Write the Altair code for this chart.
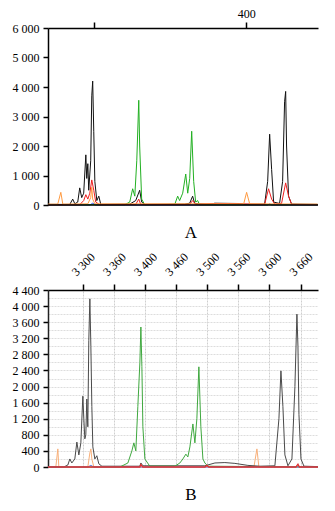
import altair as alt
import pandas as pd

FONT = "Liberation Serif"

# ---------------- Panel A (size axis, bp) ----------------
a_black_x = [270, 284.3, 286.2, 287.6, 289.5, 290.8, 292.1, 293.4, 294.8, 295.4, 296.1, 296.7, 298.0, 298.7, 299.3,
             300.0, 300.7, 302.0, 303.3, 304.6, 323.6, 327.5, 330.1, 331.4, 333.4, 359.6, 362.9, 364.8, 366.2,
             376.0, 379.3, 395.6, 398.9, 412.0, 414.0, 415.3, 416.6, 417.9, 421.8, 423.8, 425.1, 425.8, 426.4,
             427.7, 429.7, 446.7]
a_black_y = [20, 20, 200, 40, 100, 580, 250, 400, 1700, 900, 1400, 500, 1500, 3700, 4200,
             2500, 800, 150, 300, 20, 30, 150, 500, 100, 20, 30, 60, 300, 50,
             20, 60, 50, 20, 30, 800, 2400, 1200, 100, 50, 800, 3500, 3850, 2000,
             300, 30, 20]

a_green_x = [270, 320.3, 323.6, 325.5, 326.9, 328.2, 329.5, 330.1, 331.4, 333.4, 353.1, 355.0, 356.3, 358.3,
             360.3, 361.6, 362.9, 364.2, 365.5, 366.8, 368.1, 369.4, 446.7]
a_green_y = [10, 10, 100, 550, 300, 1500, 3550, 2000, 200, 10, 20, 300, 150, 400,
             1050, 400, 900, 2500, 800, 100, 150, 10, 10]

a_red_x = [270, 290.8, 293.4, 294.8, 296.1, 297.4, 298.7, 300.0, 301.3, 303.9, 327.5, 329.5, 330.8, 362.9,
           364.8, 366.8, 377.9, 389.1, 412.0, 414.6, 416.6, 418.6, 423.1, 425.8, 427.7, 429.7, 446.7]
a_red_y = [5, 10, 150, 350, 200, 400, 850, 500, 100, 10, 20, 200, 20, 20,
           150, 20, 50, 50, 20, 550, 200, 30, 50, 750, 300, 20, 10]

a_orange_x = [270, 276.4, 278.4, 279.7, 296.1, 298.0, 298.7, 299.3, 300.7, 398.3, 400.2, 402.2, 446.7]
a_orange_y = [30, 30, 430, 30, 40, 250, 600, 200, 40, 40, 430, 40, 30]

a_blue_x = [270, 297.4, 299.3, 301.3, 414.0, 415.3, 416.6, 446.7]
a_blue_y = [0, 0, 60, 0, 0, 40, 0, 0]

a_baseline_y = [0]

a_x_ticks = [300, 400]
a_y_ticks = [0, 1000, 2000, 3000, 4000, 5000, 6000]

# ---------------- Panel B (scan axis) ----------------
b_black_x = [3244, 3269.4, 3275.9, 3279.1, 3282.3, 3287.1, 3290.4, 3293.6, 3296.8, 3300.0, 3301.6, 3303.2,
             3304.8, 3306.4, 3308.0, 3309.6, 3311.3, 3312.9, 3314.5, 3316.1, 3319.3, 3322.5, 3325.7, 3330.6,
             3391.7, 3393.3, 3396.5, 3496.2, 3512.3, 3528.3, 3544.4, 3565.3, 3584.6, 3608.7, 3615.2, 3618.4,
             3621.6, 3624.8, 3629.7, 3636.1, 3640.9, 3644.1, 3645.8, 3647.4, 3650.6, 3655.4, 3678]
b_black_y = [0, 0, 50, 200, 100, 200, 620, 300, 600, 1760, 1200, 700,
             800, 1690, 1000, 3150, 4180, 3000, 1500, 500, 200, 280, 80, 20,
             20, 100, 30, 30, 100, 110, 90, 40, 20, 30, 1200, 2390,
             1500, 300, 30, 200, 2000, 3800, 3000, 1300, 200, 20, 10]

b_green_x = [3244, 3359.5, 3372.4, 3378.8, 3382.0, 3385.2, 3388.4, 3391.7, 3393.3, 3394.9, 3396.5, 3399.7,
             3407.7, 3447.9, 3456.0, 3460.8, 3465.6, 3468.8, 3472.1, 3476.9, 3480.1, 3483.3, 3486.5, 3489.7,
             3493.0, 3496.2, 3501.0, 3678]
b_green_y = [0, 0, 100, 400, 600, 400, 1500, 2600, 3480, 2500, 1000, 200,
             20, 20, 100, 200, 320, 250, 500, 1070, 600, 1200, 2490, 1000,
             200, 100, 20, 0]

b_red_x = [3244, 3391.7, 3393.3, 3396.5, 3496.2, 3499.4, 3502.6, 3642.5, 3645.8, 3648.1, 3678]
b_red_y = [0, 0, 60, 0, 0, 40, 0, 0, 70, 0, 0]

b_orange_x = [3244, 3256.6, 3259.8, 3261.4, 3308.0, 3311.3, 3312.9, 3314.5, 3317.7, 3575.0, 3579.8, 3583.0, 3678]
b_orange_y = [0, 0, 450, 0, 0, 350, 450, 200, 0, 0, 450, 0, 0]

b_blue_x = [3244, 3308.0, 3312.9, 3317.7, 3678]
b_blue_y = [0, 0, 40, 0, 0]

b_x_ticks = [3300, 3350, 3400, 3450, 3500, 3550, 3600, 3650]
b_x_labels = ["3 300", "3 360", "3 400", "3 460", "3 500", "3 560", "3 600", "3 660"]
b_y_grid = list(range(0, 4401, 200))

SPACE_FMT = "replace(format(datum.value, ','), ',', ' ')"


def df(x, y):
    return pd.DataFrame({"x": x, "y": y})


# ---------- Panel A ----------
ax_a_x = alt.X("x:Q", scale=alt.Scale(domain=[270, 447], nice=False, zero=False),
               axis=alt.Axis(orient="top", values=a_x_ticks, title=None, grid=False,
                             labelExpr="datum.value == 400 ? '400' : ''",
                             labelFont=FONT, labelFontSize=12, labelColor="black",
                             tickSize=6, tickColor="black", tickWidth=1.5,
                             domainColor="black", domainWidth=1.5, labelPadding=2))
ax_a_y = alt.Y("y:Q", scale=alt.Scale(domain=[0, 6000], nice=False),
               axis=alt.Axis(values=a_y_ticks, title=None, grid=False, labelExpr=SPACE_FMT,
                             labelOverlap=False,
                             labelFont=FONT, labelFontSize=12, labelColor="black",
                             tickSize=5, tickColor="black", tickWidth=1.5,
                             domainColor="black", domainWidth=1.5, labelPadding=4,
                             minExtent=40, maxExtent=40))


def line_a(x, y, color, w=1.0):
    return alt.Chart(df(x, y)).mark_line(color=color, strokeWidth=w, interpolate="linear").encode(
        x=ax_a_x, y=ax_a_y)


base_a = alt.Chart(pd.DataFrame({"y": a_baseline_y})).mark_rule(color="black", strokeWidth=1.5).encode(
    y=ax_a_y)

panel_a = alt.layer(
    line_a(a_blue_x, a_blue_y, "#3355ee"),
    line_a(a_black_x, a_black_y, "#111111"),
    line_a(a_green_x, a_green_y, "#22b022"),
    line_a(a_red_x, a_red_y, "#ee2020"),
    line_a(a_orange_x, a_orange_y, "#ff9a40"),
    base_a,
).properties(
    width=270, height=177,
    title=alt.TitleParams("A", orient="bottom", font=FONT, fontSize=17, fontWeight="normal",
                          color="black", offset=14, dx=8, anchor="middle", frame="group"),
)

# ---------- Panel B ----------
lbl_arr = "[" + ",".join("'%s'" % s for s in b_x_labels) + "]"
ax_b_x = alt.X("x:Q", scale=alt.Scale(domain=[3244, 3678], nice=False, zero=False),
               axis=alt.Axis(orient="top", values=b_x_ticks, title=None, grid=True,
                             gridColor="#cfcfcf", gridDash=[2, 1], gridWidth=1,
                             labelExpr=lbl_arr + "[round((datum.value - 3300) / 50)]",
                             labelAngle=315, labelAlign="center", labelBaseline="middle",
                             labelOverlap=False,
                             labelFont=FONT, labelFontSize=12, labelColor="black",
                             tickSize=6, tickColor="black", tickWidth=1.5,
                             domainColor="black", domainWidth=1.5, labelPadding=20))
ax_b_y = alt.Y("y:Q", scale=alt.Scale(domain=[0, 4400], nice=False),
               axis=alt.Axis(values=b_y_grid, title=None, grid=True,
                             gridColor="#dddddd", gridDash=[2, 1], gridWidth=1,
                             labelExpr="datum.value % 400 == 0 ? " + SPACE_FMT + " : ''",
                             labelOverlap=False,
                             labelFont=FONT, labelFontSize=12, labelColor="black",
                             tickSize=5, tickColor="black", tickWidth=1.5,
                             tickOpacity={"condition": {"test": "datum.value % 400 == 0", "value": 1}, "value": 0},
                             domainColor="#222222", domainWidth=1.5, labelPadding=4,
                             minExtent=40, maxExtent=40))


def line_b(x, y, color, w=1.0):
    return alt.Chart(df(x, y)).mark_line(color=color, strokeWidth=w, interpolate="linear").encode(
        x=ax_b_x, y=ax_b_y)


panel_b = alt.layer(
    line_b(b_orange_x, b_orange_y, "#f8b07a"),
    line_b(b_black_x, b_black_y, "#4a4a4a"),
    line_b(b_green_x, b_green_y, "#3fa83f"),
    line_b(b_blue_x, b_blue_y, "#5577dd"),
    line_b(b_red_x, b_red_y, "#e03030", 1.3),
).properties(
    width=270, height=177,
    title=alt.TitleParams("B", orient="bottom", font=FONT, fontSize=17, fontWeight="normal",
                          color="black", offset=14, dx=8, anchor="middle", frame="group"),
)

chart = alt.vconcat(panel_a, panel_b, spacing=9).properties(
    padding={"left": 8, "top": 7, "right": 0, "bottom": 0},
    background="white",
).configure_view(stroke=None)

chart.save("out.html", embed_options={"renderer": "svg", "actions": False})
